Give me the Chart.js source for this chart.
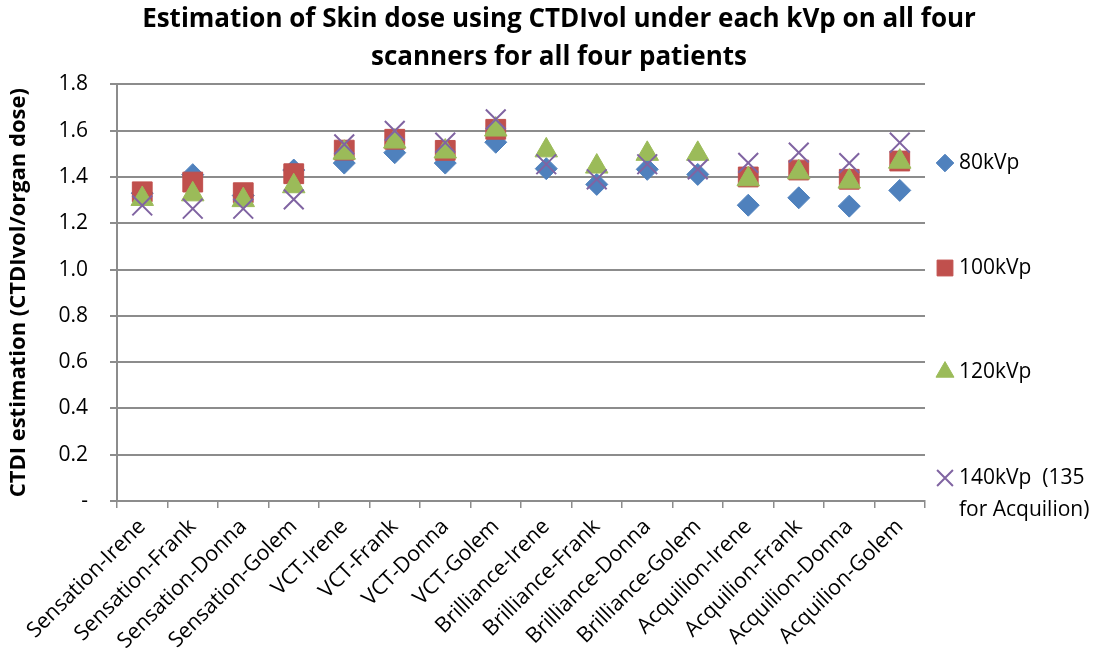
<!DOCTYPE html>
<html>
<head>
<meta charset="utf-8">
<script src="https://cdn.jsdelivr.net/npm/chart.js@4/dist/chart.umd.min.js"></script>
<style>
  html, body { margin: 0; padding: 0; background: #fff; }
  #wrap { width: 1112px; height: 663px; }
</style>
</head>
<body>
<div id="wrap"><canvas id="myChart"></canvas></div>
<script>
var categories = ['Sensation-Irene', 'Sensation-Frank', 'Sensation-Donna', 'Sensation-Golem',
	'VCT-Irene', 'VCT-Frank', 'VCT-Donna', 'VCT-Golem',
	'Brilliance-Irene', 'Brilliance-Frank', 'Brilliance-Donna', 'Brilliance-Golem',
	'Acquilion-Irene', 'Acquilion-Frank', 'Acquilion-Donna', 'Acquilion-Golem']
var kv80 = [1.33, 1.41, 1.32, 1.43, 1.46, 1.505, 1.46, 1.55, 1.436, 1.368, 1.433, 1.411, 1.278, 1.31, 1.274, 1.342]
var kv100 = [1.336, 1.378, 1.332, 1.414, 1.516, 1.563, 1.515, 1.606, null, null, null, null, 1.40, 1.43, 1.39, 1.469]
var kv120 = [1.305, 1.325, 1.30, 1.36, 1.505, 1.553, 1.51, 1.605, 1.515, 1.445, 1.50, 1.50, 1.39, 1.42, 1.38, 1.466]
var kv140 = [1.277, 1.263, 1.263, 1.303, 1.541, 1.599, 1.548, 1.649, 1.455, 1.39, 1.455, 1.433, 1.461, 1.505, 1.46, 1.548]
var seriesNames = ['80kVp', '100kVp', '120kVp', ['140kVp  (135', 'for Acquilion)']]
var yTicks = { min: 0, max: 1.8, step: 0.2 }

var blue = '#4F81BD', red = '#C0504D', green = '#9BBB59', purple = '#8064A2'
var fontName = '"Open Sans", Lato, sans-serif'
var gridColor = '#8c8c8c'

// order: later series sit on top, like Excel
function series(label, values, color, style, radius, width, order) {
	return {
		label: label,
		data: values,
		showLine: false,
		order: order,
		backgroundColor: color,
		borderColor: color,
		pointStyle: style,
		pointRadius: radius,
		pointHoverRadius: radius,
		pointBorderWidth: width
	}
}

// legend drawn by hand in its own layout box on the right,
// so the title can still be centred over the whole canvas
var sideLegend = {
	id: 'sideLegend',
	beforeInit: function (chart) {
		var box = {
			position: 'right',
			weight: 0,
			fullSize: false,
			options: {},
			isHorizontal: function () { return false },
			update: function (maxW, maxH) { this.width = 187; this.height = maxH },
			draw: function () {
				var c = chart.ctx
				var x0 = chart.chartArea.right + 20
				var rows = [163, 268, 372, 478]
				c.save()
				c.font = '21px ' + fontName
				c.textBaseline = 'middle'
				chart.data.datasets.forEach(function (ds, i) {
					var y = rows[i]
					c.fillStyle = ds.backgroundColor
					c.strokeStyle = ds.borderColor
					c.lineWidth = ds.pointBorderWidth
					Chart.helpers.drawPoint(c, { pointStyle: ds.pointStyle, radius: ds.pointRadius * 0.8, borderWidth: ds.pointBorderWidth, rotation: 0 }, x0, y)
					c.fillStyle = '#000'
					var name = seriesNames[i]
					if (Array.isArray(name)) {
						name.forEach(function (line, k) { c.fillText(line, x0 + 14, y + k * 32) })
					} else {
						c.fillText(name, x0 + 14, y)
					}
				})
				c.restore()
			}
		}
		Chart.layouts.addBox(chart, box)
	}
}

var ctx = document.getElementById('myChart')
var chart = new Chart(ctx, {
	type: 'line',
	data: {
		labels: categories,
		datasets: [
			series('80kVp', kv80, blue, 'rectRot', 11, 1, 3),
			series('100kVp', kv100, red, 'rect', 14, 1, 2),
			series('120kVp', kv120, green, 'triangle', 13, 1, 1),
			series('140kVp (135 for Acquilion)', kv140, purple, 'crossRot', 14, 2, 0)
		]
	},
	options: {
		responsive: true,
		maintainAspectRatio: false,
		animation: false,
		layout: { padding: { top: 1, right: 0, left: 6, bottom: 0 } },
		plugins: {
			legend: { display: false },
			tooltip: { enabled: false },
			title: {
				display: true,
				text: ['Estimation of Skin dose using CTDIvol under each kVp on all four', 'scanners for all four patients'],
				color: '#000',
				font: { family: fontName, size: 26, weight: 'bold', lineHeight: 1.45 },
				padding: { top: 0, bottom: 8 }
			}
		},
		scales: {
			x: {
				offset: true,
				afterFit: function (s) { s.height = 162 },
				grid: { display: true, drawOnChartArea: false, offset: true, tickLength: 7, color: gridColor, lineWidth: 1.5 },
				border: { color: gridColor, width: 2 },
				ticks: { color: '#000', font: { family: fontName, size: 21.5 }, maxRotation: 45, minRotation: 45, autoSkip: false, padding: 6 }
			},
			y: {
				min: yTicks.min,
				max: yTicks.max,
				afterFit: function (s) { s.width = 111 },
				grid: { color: gridColor, lineWidth: 2, tickLength: 7 },
				border: { color: gridColor, width: 2 },
				ticks: {
					stepSize: yTicks.step,
					color: '#000',
					padding: 22,
					font: { family: fontName, size: 21 },
					callback: function (v) { return v === 0 ? '-' : v.toFixed(1) }
				},
				title: {
					display: true,
					text: 'CTDI estimation (CTDIvol/organ dose)',
					color: '#000',
					font: { family: fontName, size: 22, weight: 'bold' },
					padding: { top: 0, bottom: 4 }
				}
			}
		}
	},
	plugins: [sideLegend]
})
</script>
</body>
</html>
